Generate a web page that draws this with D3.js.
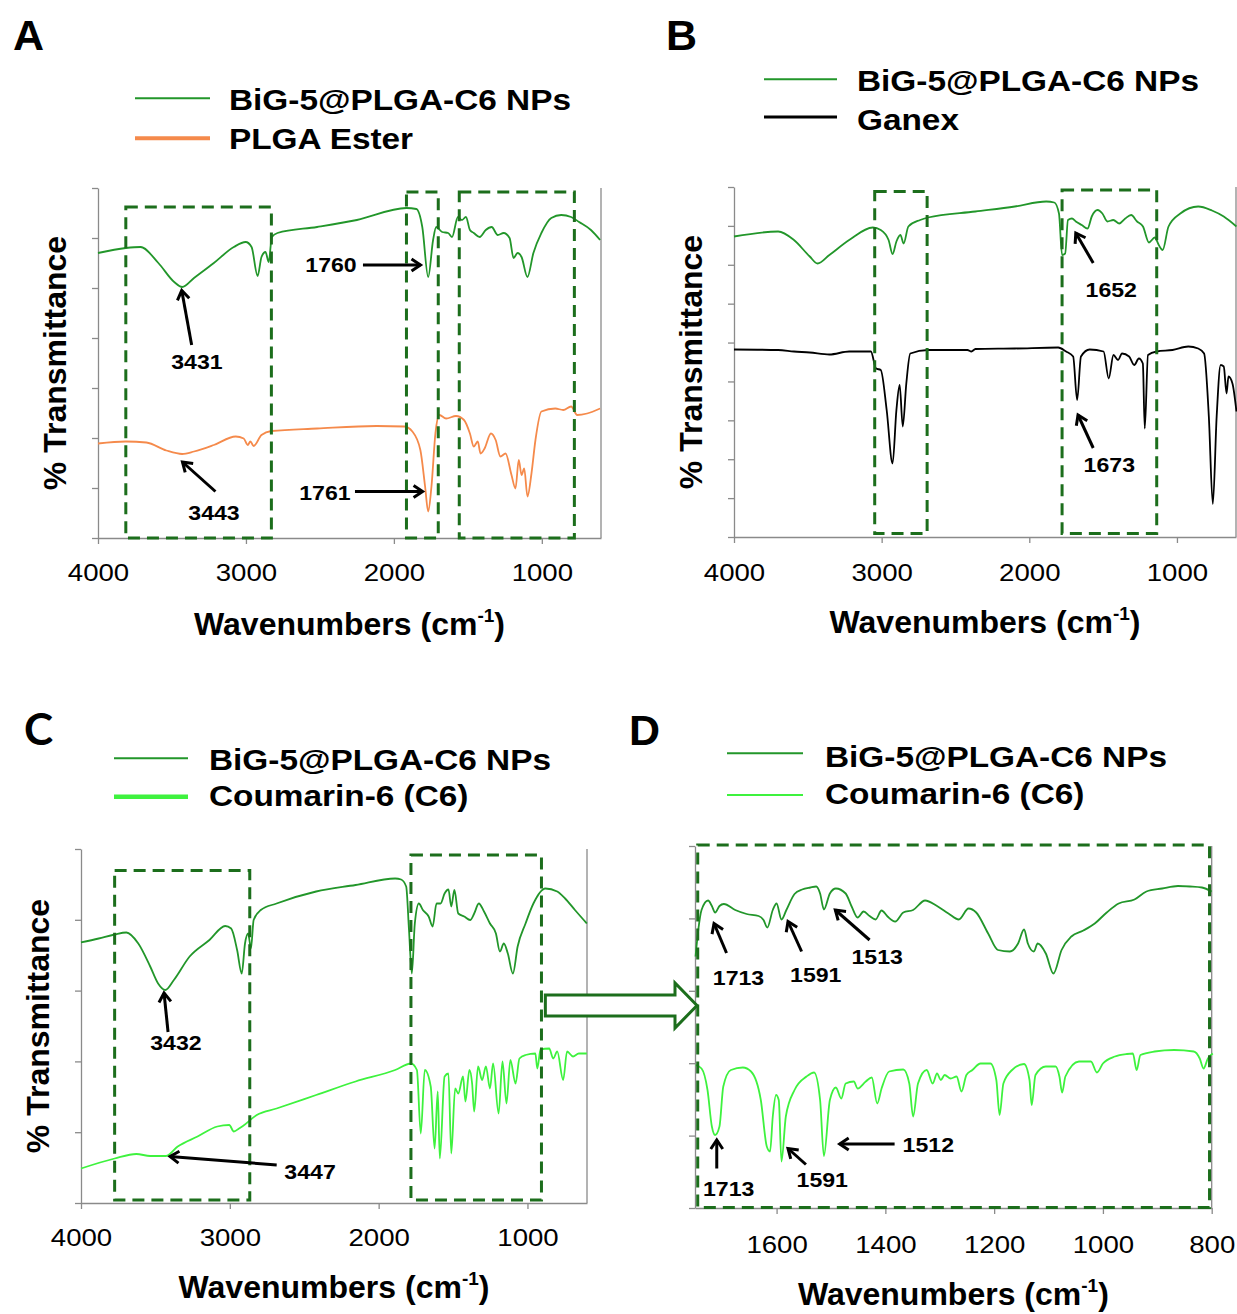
<!DOCTYPE html>
<html>
<head>
<meta charset="utf-8">
<script src="https://cdn.jsdelivr.net/npm/d3@7"></script>
<style>
  body { margin: 0; background: #fff; }
  svg { display: block; font-family: "Liberation Sans", Arial, sans-serif; }
</style>
</head>
<body>
<svg id="fig" width="1237" height="1314"></svg>
<script>
// ---- data (wavenumber, arbitrary transmittance) ----
const xTicksWide = [4000, 3000, 2000, 1000];
const xTicksZoom = [1600, 1400, 1200, 1000, 800];

// Panel A
const wnA_np = [4000,3812,3713,3592,3485,3431,3351,3217,3082,3002,2962,2921,2895,2868,2846,2825,2787,2519,2250,1915,1848,1808,1768,1735,1714,1674,1633,1607,1567,1540,1513,1486,1460,1420,1379,1339,1298,1258,1218,1191,1164,1137,1097,1057,1003,936,869,802,748,668,606];
const tA_np = [57.0,58.0,58.2,55.0,51.2,50.2,52.0,55.0,58.2,59.2,58.2,52.4,56.2,57.2,55.2,60.2,61.0,62.2,63.6,66.0,65.8,62.2,52.2,59.6,62.2,61.2,61.0,60.2,64.2,63.6,64.2,61.6,61.0,60.2,61.6,62.2,60.6,61.0,60.0,56.0,57.0,56.2,52.2,57.0,61.0,64.0,64.6,64.2,63.2,61.6,59.6];
const wnA_plga = [4000,3812,3673,3538,3431,3351,3217,3069,3015,2988,2970,2948,2895,2828,2519,2117,1929,1875,1821,1789,1768,1746,1719,1692,1647,1580,1526,1486,1460,1433,1414,1387,1344,1312,1280,1245,1205,1178,1156,1137,1119,1097,1070,1043,1003,909,855,802,761,694,606];
const tA_plga = [18.9,19.3,19.1,17.5,16.8,17.3,18.6,20.3,19.9,18.6,19.3,18.4,20.6,21.4,21.9,22.4,22.3,21.3,17.6,10.3,5.3,10.3,21.0,24.6,23.9,24.4,23.6,20.9,18.3,19.3,16.9,17.9,20.9,19.6,16.3,16.9,12.6,9.9,15.6,12.6,13.9,8.3,12.9,19.6,25.3,25.9,25.6,26.3,24.6,24.9,25.9];

// Panel B
const wnB_np = [4000,3701,3594,3487,3434,3354,3220,3060,3006,2953,2926,2900,2873,2851,2819,2739,2686,2365,2098,1885,1831,1799,1778,1757,1738,1711,1685,1645,1605,1577,1537,1505,1471,1431,1390,1350,1310,1270,1230,1190,1150,1123,1097,1057,977,856,763,683,597];
const tB_np = [60.1,61.1,59.4,56.1,54.7,56.4,59.4,61.9,61.4,59.4,56.6,59.1,60.4,58.7,62.1,63.4,63.9,65.1,66.1,67.1,66.9,64.7,56.4,56.7,63.4,63.7,63.1,62.4,61.7,64.1,65.4,64.7,63.1,63.4,62.7,63.7,64.4,63.1,62.1,58.9,59.9,58.4,57.4,62.1,64.7,66.1,65.3,64.1,62.1];
const wnB_ganex = [4000,3701,3594,3487,3354,3220,3073,3038,3006,2966,2926,2900,2878,2857,2833,2806,2686,2419,2392,2365,2098,1804,1751,1703,1676,1650,1591,1497,1462,1430,1399,1372,1324,1289,1258,1231,1218,1196,1137,1030,923,856,816,784,757,731,704,683,664,651,624,597];
const tB_ganex = [37.5,37.4,37.1,36.9,36.5,37.1,37.1,33.7,33.4,25.4,14.7,25.4,30.4,22.1,30.7,36.7,37.4,37.4,37.1,37.6,37.7,37.9,37.1,36.1,27.4,36.1,37.5,37.1,31.7,36.4,35.4,36.7,36.1,34.4,35.7,34.7,21.7,36.4,37.1,37.4,38.1,37.7,36.7,24.1,6.6,24.1,34.4,34.1,28.7,32.1,30.7,25.1];

// Panel C
const wnC_np = [4000,3881,3774,3695,3615,3535,3482,3434,3376,3270,3137,3031,2991,2951,2920,2898,2877,2858,2840,2792,2686,2420,2155,1889,1849,1815,1796,1777,1757,1730,1703,1664,1637,1611,1584,1557,1531,1512,1491,1465,1425,1385,1358,1327,1292,1252,1212,1185,1159,1132,1098,1066,1013,960,880,800,747,681,601];
const tC_np = [52.1,52.9,53.7,54.1,51.9,47.3,43.9,42.6,44.6,49.3,52.6,55.4,54.9,50.6,45.9,51.9,53.9,50.9,56.6,58.6,59.9,62.3,63.6,64.9,64.7,63.3,54.6,45.9,55.9,59.9,58.6,57.3,55.3,59.9,59.9,61.9,62.7,59.3,62.6,57.9,57.3,56.6,57.9,59.9,58.3,55.9,53.9,50.3,51.9,49.9,45.9,51.3,55.9,59.9,62.9,62.3,60.9,58.6,55.9];
const wnC_c6 = [4000,3774,3628,3535,3429,3350,3217,3084,3004,2973,2938,2912,2819,2686,2420,2155,1889,1783,1743,1717,1690,1650,1624,1603,1589,1557,1531,1512,1486,1465,1433,1417,1390,1372,1358,1332,1305,1279,1252,1231,1194,1168,1141,1115,1080,1054,1013,947,934,912,854,827,800,760,734,694,655,601];
const tC_c6 = [6.9,8.9,9.8,9.4,9.4,11.3,13.3,15.3,15.6,14.3,14.9,15.4,17.6,18.9,21.6,24.3,26.6,27.9,26.6,13.9,26.6,23.3,10.9,22.3,8.9,25.3,25.9,9.9,22.9,21.9,25.3,20.3,26.6,23.9,18.3,27.3,24.6,27.3,22.9,27.9,17.9,28.3,19.9,28.6,23.9,28.9,29.6,29.9,26.9,30.7,30.9,28.9,30.3,24.6,30.3,29.3,29.9,29.9];

// Panel D (zoom 1750-800)
const wnD_np = [1749,1744,1738,1726,1719,1713,1705,1697,1676,1655,1633,1624,1617,1607,1600,1591,1582,1567,1553,1538,1527,1520,1513,1502,1491,1473,1462,1451,1440,1429,1418,1407,1396,1382,1367,1349,1327,1305,1284,1265,1247,1233,1211,1193,1171,1156,1145,1138,1127,1120,1105,1091,1076,1058,1036,1015,993,971,942,920,891,862,840,818,800];
const tD_np = [50.3,55.6,59.6,61.5,60.4,59.1,60.4,60.8,59.6,58.8,58.4,57.6,56.1,59.6,60.9,57.7,59.6,62.8,63.7,64.1,64.3,62.9,59.7,62.9,63.9,62.9,60.3,58.1,59.3,58.4,57.7,59.5,58.3,57.3,59.1,59.6,61.5,60.4,58.9,57.7,59.9,59.1,54.9,51.6,51.3,52.9,55.7,52.9,51.3,52.9,50.9,46.9,51.6,54.3,55.5,56.9,59.1,60.9,61.7,63.3,63.9,64.4,64.3,64.1,63.3];
const wnD_c6 = [1749,1738,1727,1719,1713,1705,1698,1684,1662,1647,1629,1618,1612,1607,1601,1596,1591,1583,1567,1545,1531,1520,1513,1502,1491,1481,1473,1458,1451,1436,1425,1415,1407,1393,1367,1356,1349,1340,1324,1313,1305,1298,1291,1280,1269,1260,1251,1240,1225,1207,1196,1190,1183,1167,1145,1135,1131,1124,1105,1087,1080,1075,1069,1044,1022,1011,1000,978,956,945,938,931,905,869,833,822,815,807,798];
const tD_c6 = [28.6,27.9,23.6,16.3,14.6,16.3,24.3,27.6,28.1,27.3,21.6,12.3,11.3,18.3,22.6,21.6,9.3,18.3,23.6,26.3,27.1,21.6,10.4,21.6,24.1,21.9,24.9,25.3,23.9,25.3,26.1,20.9,23.9,27.3,27.7,24.9,18.3,24.9,27.6,24.9,26.9,25.6,26.6,25.9,26.3,23.3,26.6,27.6,28.9,28.9,25.6,18.6,24.9,27.6,28.8,25.6,20.6,26.6,28.3,28.3,26.3,23.1,26.3,29.3,29.3,27.1,28.9,30.3,30.8,30.9,27.6,30.6,31.3,31.6,31.3,29.9,27.9,29.9,30.9];

// highlighted regions [wnFrom, wnTo, tLow, tHigh]
const boxesA = [[3812, 2828, 0, 66.2], [1915, 1700, 0, 69.2], [1558, 780, 0, 69.2]];
const boxesB = [[3047, 2692, 0.7, 69.1], [1778, 1137, 0.7, 69.4]];
const boxesC = [[3774, 2866, 0.6, 66.5], [1783, 906, 0.6, 69.6]];
const boxesD = [[1745, 804, 0.1, 72.6]];

// peak labels: text, label position, arrow start, arrow tip (wn, t)
const notesA = [
  ["3431", [3331, 35.2], [3367, 38.6], [3434, 49.5]],
  ["3443", [3216, 5.0], [3206, 9.3], [3429, 15.2]],
  ["1760", [2425, 54.6], [2209, 54.6], [1820, 54.6]],
  ["1761", [2466, 9.1], [2263, 9.3], [1806, 9.3]]
];
const notesB = [
  ["1652", [1445, 49.4], [1567, 54.8], [1685, 60.8]],
  ["1673", [1458, 14.4], [1567, 17.8], [1670, 24.4]]
];
const notesC = [
  ["3432", [3362, 32.0], [3415, 34.2], [3442, 42.0]],
  ["3447", [2461, 6.2], [2685, 7.6], [3402, 9.3]]
];
const notesD = [
  ["1713", [1670, 46.1], [1692, 51.0], [1715, 56.9]],
  ["1591", [1528, 46.6], [1554, 51.3], [1579, 57.3]],
  ["1513", [1415, 50.3], [1429, 53.6], [1492, 59.6]],
  ["1713", [1688, 3.9], [1710, 7.9], [1710, 13.6]],
  ["1591", [1516, 5.6], [1546, 8.7], [1579, 11.9]],
  ["1512", [1321, 12.6], [1383, 12.8], [1484, 12.8]]
];

const NP = "BiG-5@PLGA-C6 NPs";
const DARK = "#22962a", BOX = "#1c6e1c", ORANGE = "#f58a4b", LIME = "#3ef23e";

const fig = d3.select("#fig");

fig.append("defs").append("marker")
  .attr("id", "head")
  .attr("markerUnits", "userSpaceOnUse")
  .attr("viewBox", "-2 -2 16 16")
  .attr("markerWidth", 16).attr("markerHeight", 16)
  .attr("refX", 10).attr("refY", 6)
  .attr("orient", "auto")
  .append("path")
  .attr("d", "M1,0 L10,6 L1,12")
  .attr("fill", "none").attr("stroke", "#000").attr("stroke-width", 3);

function stretch(sel, k) {
  sel.each(function () {
    const w = this.getComputedTextLength();
    d3.select(this).attr("textLength", w * k).attr("lengthAdjust", "spacingAndGlyphs");
  });
}

function panel(cfg) {
  const x = d3.scaleLinear().domain(cfg.xDomain).range([cfg.left, cfg.right]);
  const y = d3.scaleLinear().domain([0, cfg.yMax]).range([cfg.bottom, cfg.top]);
  const g = fig.append("g");

  const xa = g.append("g")
    .attr("transform", `translate(0,${cfg.bottom})`)
    .call(d3.axisBottom(x).tickValues(cfg.xTicks).tickFormat(d3.format("d"))
      .tickSize(6).tickSizeOuter(0));
  const ya = g.append("g")
    .attr("transform", `translate(${cfg.left},0)`)
    .call(d3.axisLeft(y)
      .tickValues(d3.range(cfg.yIntervals + 1).map(i => i * cfg.yMax / cfg.yIntervals))
      .tickFormat("").tickSize(6).tickSizeOuter(0));
  [xa, ya].forEach(a => {
    a.attr("font-family", null).attr("font-size", null);
    a.selectAll("path, line").attr("stroke", "#8a8a8a").attr("stroke-width", 1.3);
  });
  const tl = xa.selectAll("text")
    .attr("y", cfg.tickGap).attr("dy", "0.35em")
    .attr("font-size", 24).attr("fill", "#000");
  stretch(tl, 1.15);

  g.append("line")
    .attr("x1", cfg.right).attr("x2", cfg.right)
    .attr("y1", cfg.top).attr("y2", cfg.bottom)
    .attr("stroke", "#8a8a8a").attr("stroke-width", 1.3);

  const line = d3.line()
    .x(d => x(d[0]))
    .y(d => y(d[1]))
    .curve(d3.curveMonotoneX);

  cfg.series.forEach(s => {
    g.append("path")
      .datum(d3.zip(s.wn, s.t))
      .attr("d", line)
      .attr("fill", "none")
      .attr("stroke", s.color)
      .attr("stroke-width", 1.8)
      .attr("stroke-linejoin", "round");
  });

  g.selectAll(".box")
    .data(cfg.boxes)
    .enter().append("rect")
    .attr("class", "box")
    .attr("x", d => x(d[0]))
    .attr("y", d => y(d[3]))
    .attr("width", d => x(d[1]) - x(d[0]))
    .attr("height", d => y(d[2]) - y(d[3]))
    .attr("fill", "none")
    .attr("stroke", BOX)
    .attr("stroke-width", 3)
    .attr("stroke-dasharray", "12,7");

  cfg.notes.forEach(n => {
    g.append("line")
      .attr("x1", x(n[2][0])).attr("y1", y(n[2][1]))
      .attr("x2", x(n[3][0])).attr("y2", y(n[3][1]))
      .attr("stroke", "#000").attr("stroke-width", 3)
      .attr("marker-end", "url(#head)");
    const t = g.append("text")
      .attr("x", x(n[1][0])).attr("y", y(n[1][1]))
      .attr("dy", "0.35em")
      .attr("text-anchor", "middle")
      .attr("font-size", 21).attr("font-weight", "bold")
      .text(n[0]);
    stretch(t, 1.1);
  });

  // legend
  cfg.series.forEach((s, i) => {
    g.append("line")
      .attr("x1", cfg.legend.x0).attr("x2", cfg.legend.x1)
      .attr("y1", cfg.legend.lineY[i]).attr("y2", cfg.legend.lineY[i])
      .attr("stroke", s.color).attr("stroke-width", s.legendWidth);
    const t = g.append("text")
      .attr("x", cfg.legend.textX).attr("y", cfg.legend.textY[i])
      .attr("font-size", 29).attr("font-weight", "bold")
      .text(s.name);
    stretch(t, 1.15);
  });

  // axis titles
  const xt = g.append("text")
    .attr("x", (cfg.left + cfg.right) / 2).attr("y", cfg.bottom + cfg.titleGap)
    .attr("text-anchor", "middle")
    .attr("font-size", 32).attr("font-weight", "bold");
  xt.append("tspan").text("Wavenumbers (cm");
  xt.append("tspan").attr("font-size", 19).attr("dy", -13).text("-1");
  xt.append("tspan").attr("dy", 13).text(")");

  if (cfg.ylabel) {
    g.append("text")
      .attr("transform", `translate(${cfg.left - 43},${(cfg.top + cfg.bottom) / 2}) rotate(-90)`)
      .attr("text-anchor", "middle").attr("dy", "0.35em")
      .attr("font-size", 32).attr("font-weight", "bold")
      .text("% Transmittance");
  }

  const letter = g.append("text")
    .attr("x", cfg.letter.x).attr("y", cfg.letter.y)
    .attr("font-size", cfg.letter.size).attr("font-weight", "bold")
    .text(cfg.letter.text);
  if (cfg.letter.font) letter.attr("font-family", cfg.letter.font);

  return { x, y };
}

panel({
  left: 98, right: 601, top: 188, bottom: 538,
  xDomain: [4000, 600], xTicks: xTicksWide, yMax: 70, yIntervals: 7,
  tickGap: 35, titleGap: 97, ylabel: true,
  series: [
    { name: NP, wn: wnA_np, t: tA_np, color: DARK, legendWidth: 2 },
    { name: "PLGA Ester", wn: wnA_plga, t: tA_plga, color: ORANGE, legendWidth: 4 }
  ],
  boxes: boxesA, notes: notesA,
  legend: { x0: 135, x1: 210, textX: 229, lineY: [98.3, 138.3], textY: [110, 148.5] },
  letter: { text: "A", x: 13, y: 50, size: 43 }
});

panel({
  left: 734, right: 1236, top: 187, bottom: 537,
  xDomain: [4000, 600], xTicks: xTicksWide, yMax: 70, yIntervals: 9,
  tickGap: 36, titleGap: 96, ylabel: true,
  series: [
    { name: NP, wn: wnB_np, t: tB_np, color: DARK, legendWidth: 2 },
    { name: "Ganex", wn: wnB_ganex, t: tB_ganex, color: "#000", legendWidth: 3 }
  ],
  boxes: boxesB, notes: notesB,
  legend: { x0: 764, x1: 837, textX: 857, lineY: [79.3, 117], textY: [90.7, 130] },
  letter: { text: "B", x: 666, y: 50, size: 43 }
});

const pc = panel({
  left: 81, right: 587, top: 849, bottom: 1203,
  xDomain: [4000, 600], xTicks: xTicksWide, yMax: 70.8, yIntervals: 5,
  tickGap: 35, titleGap: 95, ylabel: true,
  series: [
    { name: NP, wn: wnC_np, t: tC_np, color: DARK, legendWidth: 2 },
    { name: "Coumarin-6 (C6)", wn: wnC_c6, t: tC_c6, color: LIME, legendWidth: 4.5 }
  ],
  boxes: boxesC, notes: notesC,
  legend: { x0: 114, x1: 188, textX: 209, lineY: [758.3, 796.7], textY: [770, 806] },
  letter: { text: "C", x: 24, y: 745, size: 44, font: "Lato" }
});

const pd = panel({
  left: 695, right: 1211.7, top: 846, bottom: 1208,
  xDomain: [1750, 800], xTicks: xTicksZoom, yMax: 72.4, yIntervals: 5,
  tickGap: 37, titleGap: 97, ylabel: false,
  series: [
    { name: NP, wn: wnD_np, t: tD_np, color: DARK, legendWidth: 2 },
    { name: "Coumarin-6 (C6)", wn: wnD_c6, t: tD_c6, color: LIME, legendWidth: 2 }
  ],
  boxes: boxesD, notes: notesD,
  legend: { x0: 727, x1: 803, textX: 825, lineY: [753.3, 795], textY: [766.7, 804] },
  letter: { text: "D", x: 629, y: 745, size: 43 }
});

// hollow arrow from the C fingerprint box to the zoomed panel D
const ax0 = pc.x(900) + 3, ax1 = pd.x(1750) - 20, tip = pd.x(1750) + 2;
const ay = 1005.5;
fig.append("path")
  .attr("d", `M${ax0},${ay - 10.5} L${ax1},${ay - 10.5} L${ax1},${ay - 22.5} L${tip},${ay} L${ax1},${ay + 22.5} L${ax1},${ay + 10.5} L${ax0},${ay + 10.5} Z`)
  .attr("fill", "#fff")
  .attr("stroke", BOX)
  .attr("stroke-width", 3);
</script>
</body>
</html>
